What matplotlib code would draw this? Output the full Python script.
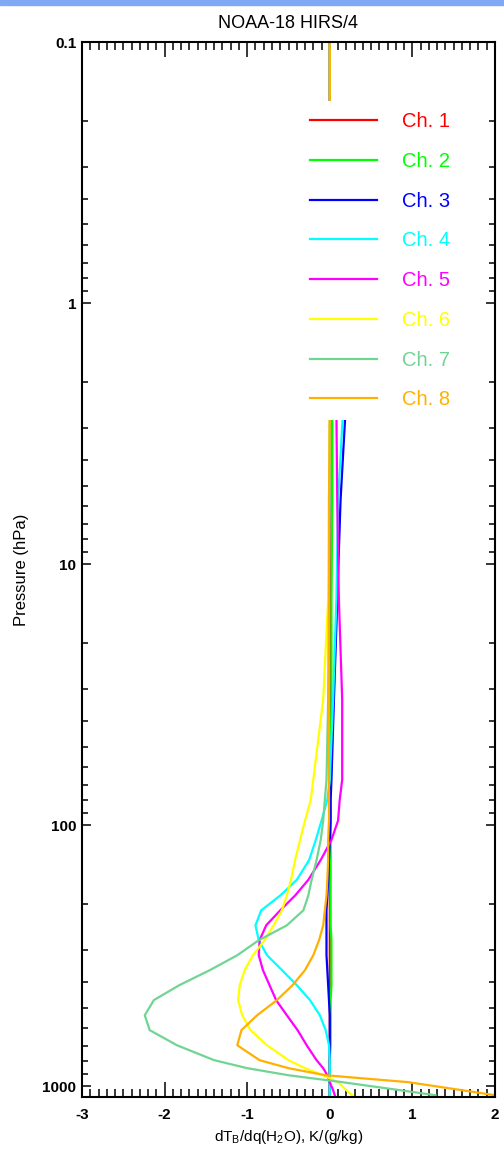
import matplotlib
matplotlib.use("Agg")
import matplotlib.pyplot as plt
from matplotlib.patches import Rectangle
from matplotlib.ticker import FixedLocator, FuncFormatter, MultipleLocator, LogLocator, NullFormatter

plt.rcParams['font.family'] = ['Liberation Sans', 'DejaVu Sans']

# pressure levels (hPa) shared by all channels
pressure = [0.1, 1, 2.6, 5.7, 13.7, 33,
            67, 80, 96, 114, 136, 162, 186, 212, 242, 276, 315, 359,
            410, 468, 535, 610, 697, 795, 853, 908, 965, 1036, 1083]

# water vapour Jacobians, K/(g/kg)
ch1 = [0, 0, 0.01, 0.01, 0.01, 0.01,
       0, 0, 0, 0, 0, 0, 0, 0, 0, 0, 0, 0,
       0, 0, 0, 0, 0, 0, 0, 0, 0, 0, 0]
ch2 = [0, 0, 0.03, 0.03, 0.02, 0.02,
       0.01, 0.01, 0.01, 0.01, 0.01, 0.01, 0.01, 0.01, 0.01, 0.02, 0.02, 0.02,
       0.02, 0.01, 0.01, 0.01, 0.01, 0, 0, 0, 0, 0, 0]
ch3 = [0, 0, 0.19, 0.13, 0.09, 0.05,
       0.02, 0.01, 0.01, 0.0, -0.01, -0.02, -0.03, -0.04, -0.04, -0.04, -0.04, -0.03,
       -0.02, -0.01, 0, 0, 0, 0, 0, 0, 0, 0, 0]
ch4 = [0, 0, 0.16, 0.10, 0.08, 0.04,
       0.0, -0.03, -0.1, -0.17, -0.25, -0.4, -0.6, -0.83, -0.9, -0.86, -0.76, -0.58,
       -0.4, -0.24, -0.12, -0.05, -0.01, 0, 0, 0, 0, 0, 0]
ch5 = [0, 0, 0.08, 0.09, 0.11, 0.15,
       0.15, 0.12, 0.1, 0.02, -0.11, -0.26, -0.42, -0.6, -0.77, -0.85, -0.86, -0.81,
       -0.73, -0.65, -0.52, -0.39, -0.28, -0.16, -0.08, -0.03, 0.0, 0.04, 0.06]
ch6 = [0, 0, 0, -0.01, -0.02, -0.08,
       -0.2, -0.23, -0.3, -0.36, -0.42, -0.47, -0.52, -0.58, -0.68, -0.79, -0.93, -1.03,
       -1.09, -1.11, -1.06, -0.96, -0.76, -0.5, -0.3, -0.08, 0.1, 0.2, 0.27]
ch7 = [0, 0, 0, 0, -0.01, -0.02,
       -0.04, -0.06, -0.08, -0.11, -0.16, -0.22, -0.26, -0.32, -0.52, -0.86, -1.12, -1.45,
       -1.82, -2.13, -2.24, -2.18, -1.85, -1.4, -1.0, -0.5, 0.15, 0.85, 1.28]
ch8 = [0, 0, 0, -0.01, -0.01, -0.01,
       -0.01, -0.01, -0.01, -0.02, -0.02, -0.03, -0.04, -0.06, -0.08, -0.13, -0.2, -0.3,
       -0.45, -0.64, -0.88, -1.07, -1.12, -0.85, -0.5, -0.05, 0.95, 1.6, 2.0]

channels = [ch1, ch2, ch3, ch4, ch5, ch6, ch7, ch8]
labels = ['Ch. 1', 'Ch. 2', 'Ch. 3', 'Ch. 4', 'Ch. 5', 'Ch. 6', 'Ch. 7', 'Ch. 8']
colors = ['#ff0000', '#00ff00', '#0000ff', '#00ffff', '#ff00ff', '#ffff00', '#70d592', '#ffb000']

fig = plt.figure(figsize=(5.04, 11.52), dpi=100)
fig.patches.append(Rectangle((0, 1 - 5 / 1152), 1, 5 / 1152, transform=fig.transFigure,
                             color='#80a8f5', zorder=0))
ax = fig.add_axes([82 / 504, 1 - 1097 / 1152, 413 / 504, 1055 / 1152])

for vals, lab, col in zip(channels, labels, colors):
    ax.plot(vals, pressure, color=col, lw=1.6, label=lab, solid_joinstyle='round')

ax.set_yscale('log')
ax.set_ylim(1100, 0.1)
ax.set_xlim(-3, 2)

ax.xaxis.set_major_locator(MultipleLocator(1))
ax.xaxis.set_minor_locator(MultipleLocator(0.1))
ax.xaxis.set_major_formatter(FuncFormatter(lambda v, p: '%d' % round(v)))
ax.yaxis.set_major_locator(FixedLocator([0.1, 1, 10, 100, 1000]))
ax.yaxis.set_minor_locator(LogLocator(base=10, subs=range(2, 10)))
ax.yaxis.set_major_formatter(FuncFormatter(lambda v, p: '%g' % v))
ax.yaxis.set_minor_formatter(NullFormatter())

ax.tick_params(axis='x', which='major', direction='in', top=True, length=11, width=1.1,
               labelsize=11, pad=8)
ax.tick_params(axis='x', which='minor', direction='in', top=True, length=5.5, width=1.1)
ax.tick_params(axis='y', which='major', direction='in', right=True, length=6.5, width=1.1,
               labelsize=11, pad=4)
ax.tick_params(axis='y', which='minor', direction='in', right=True, length=4, width=1.1)
for lbl in ax.get_xticklabels() + ax.get_yticklabels():
    lbl.set_fontweight('bold')
for sp in ax.spines.values():
    sp.set_linewidth(1.5)

ax.set_title('NOAA-18 HIRS/4', fontsize=13, pad=10)
ax.set_xlabel(r'dT$_\mathregular{B}$/dq(H$_\mathregular{2}$O), K/(g/kg)', fontsize=11, labelpad=4)
ax.set_ylabel('Pressure (hPa)', fontsize=12, labelpad=10)

leg = ax.legend(loc='upper left', bbox_to_anchor=(0.525, 0.944), frameon=True,
                fontsize=14.5, handlelength=3.33, handletextpad=1.24, labelspacing=1.03,
                borderpad=0.55, borderaxespad=0, fancybox=False)
leg.get_frame().set_facecolor('white')
leg.get_frame().set_edgecolor('none')
leg.get_frame().set_alpha(1.0)
for txt, col in zip(leg.get_texts(), colors):
    txt.set_color(col)

fig.savefig('out.png', dpi=100, facecolor='white')
